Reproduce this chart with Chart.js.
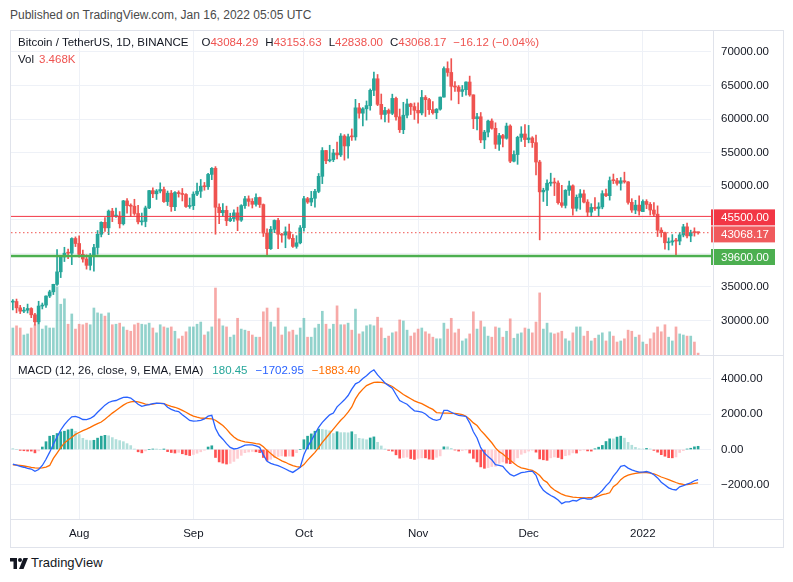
<!DOCTYPE html>
<html><head><meta charset="utf-8">
<script src="https://cdn.jsdelivr.net/npm/chart.js@4.4.1/dist/chart.umd.min.js"></script>
<style>
html,body{margin:0;padding:0;background:#fff;}
body{width:793px;height:582px;overflow:hidden;position:relative;font-family:'Liberation Sans',Arial,sans-serif;color:#131722;}
.abs{position:absolute;white-space:nowrap;}
#pub{left:10px;top:8px;font-size:12px;line-height:14px;color:#4a4a4a;}
#frame{left:10px;top:30px;width:772px;height:516px;border:1px solid #e0e3eb;}
#pw{left:11px;top:31px;width:771px;height:324px;}
#mw{left:11px;top:356px;width:771px;height:190px;}
.hl{background:#e0e3eb;height:1px;}
.vl{background:#e0e3eb;width:1px;}
.leg{font-size:11.5px;line-height:14px;}
.r{color:#ef5350;}
.sp{margin-left:7px;}
#logo{left:10px;top:556px;font-size:13px;line-height:14px;color:#131722;display:flex;align-items:center;gap:3px;}
</style></head><body>
<div id="pub" class="abs">Published on TradingView.com, Jan 16, 2022 05:05 UTC</div>
<div id="frame" class="abs"></div>
<div id="pw" class="abs"><canvas id="priceChart"></canvas></div>
<div id="mw" class="abs"><canvas id="macdChart"></canvas></div>
<div class="abs hl" style="left:10px;top:355px;width:773px;"></div>
<div class="abs hl" style="left:10px;top:519px;width:773px;"></div>
<div class="abs vl" style="left:713px;top:30px;height:517px;"></div>
<div class="abs leg" style="left:18px;top:35px;">Bitcoin / TetherUS, 1D, BINANCE<span style="margin-left:13px">O</span><span class="r">43084.29</span><span class="sp">H</span><span class="r">43153.63</span><span class="sp">L</span><span class="r">42838.00</span><span class="sp">C</span><span class="r">43068.17</span><span class="r sp">−16.12 (−0.04%)</span></div>
<div class="abs leg" style="left:18px;top:52px;">Vol<span class="r" style="margin-left:5px">3.468K</span></div>
<div class="abs leg" style="left:18px;top:363px;">MACD (12, 26, close, 9, EMA, EMA)<span style="color:#26a69a;margin-left:9px">180.45</span><span style="color:#2962ff;margin-left:8px">−1702.95</span><span style="color:#ff6d00;margin-left:8px">−1883.40</span></div>
<div id="logo" class="abs"><svg width="18" height="11" viewBox="0 0 36 22"><path d="M0 0h14v22h-7v-15h-7z" fill="#131722"/><circle cx="20" cy="4" r="4" fill="#131722"/><path d="M27 0h9l-9 22h-9z" fill="#131722"/></svg><span>TradingView</span></div>
<script>
// ---------- data ----------
const firstDate = [2021, 6, 14];   // Jul 14 2021 (month 0-based)
const slotCount = 190;             // daily slots on the time axis (3 empty at right)
const tickDates = ['2021-08-01','2021-09-01','2021-10-01','2021-11-01','2021-12-01','2022-01-01'];
const tickLabels = ['Aug','Sep','Oct','Nov','Dec','2022'];
const priceTicks = [30000,35000,40000,45000,50000,55000,60000,65000,70000];
const hiddenPriceLabels = [40000,45000];   // covered by the level labels
const macdTicks = [-2000,0,2000,4000];

const open = [32729,32820,31874,31383,31520,31779,30839,29790,32144,32287,33635,34262,35376,37242,39456,40019,40018,42206,
41462,39850,39146,38208,39744,40866,42832,44614,43794,46280,45543,45544,44400,47810,47097,47019,45937,44686,44741,46763,49340,48867,49284,49507,47707,48961,46942,49059,48897,48768,46970,
47100,48811,49247,50000,49918,51757,52667,46868,46048,46396,44851,45172,46026,44942,47103,48121,47737,47300,48307,47260,43012,40694,43574,44896,42839,42717,43208,42236,41034,41564,
43820,48141,47634,48201,49224,51472,55315,53785,53955,54949,54659,57471,55996,57370,57347,61673,60876,61528,62005,64281,66002,62193,60689,61286,60853,63079,60328,58413,60576,62253,61859,
61300,60911,63220,62897,61395,60940,61470,63274,67525,66947,64883,64774,64123,64380,65520,63606,60059,60345,56892,58057,59707,58617,56247,57541,57138,58960,53723,54716,57274,57777,
56951,57184,56485,53601,49153,49397,50441,50589,50471,47535,47140,49389,50053,46702,48336,48864,47632,46133,46834,46682,46914,48887,48588,50838,50821,50428,50809,50640,47589,46444,47179,
46216,47723,47286,46446,45832,43452,43082,41567,41680,41864,41822,42735,43946,42592,43099,43084.29];
const high = [33114,33185,32249,31950,32435,31899,31063,32858,32591,33650,34500,35398,40550,39542,40900,40640,42316,42448,
42599,40480,39780,39969,41350,43392,44700,45310,46454,46700,46743,46218,47886,48144,47372,48053,47160,46000,47033,49400,49757,49500,50500,49876,49283,49365,49193,49309,49659,48910,48246,
49156,50450,51000,50558,51900,52780,52920,47381,47399,47031,45970,46460,46880,47250,48500,48557,48150,48843,48372,47358,43639,44000,44978,45200,42971,43936,44350,42788,42629,44141,
48495,48336,49228,49536,51886,55750,55332,56100,55489,56561,57839,57680,57777,58532,62933,62350,61700,62695,64486,67000,66639,63732,61747,61500,63710,63293,61496,62499,62980,62359,62405,
62437,64270,63500,63086,62595,61560,63286,67789,68530,69000,65600,65000,65000,65550,66401,63617,60840,60976,58320,59845,60029,59444,57875,57735,59398,59150,55280,57445,58865,59176,
59053,57375,57600,53859,49699,50935,51936,51200,50797,50125,49485,50777,50189,48700,49500,49436,47995,47392,48300,47537,49328,49576,51375,51810,51156,51280,52088,50704,48139,47900,48549,
47954,47990,47570,47557,47070,43816,43145,42300,42786,42248,43100,44322,44500,43448,43800,43153.63];
const low = [31550,31133,31020,31164,31108,30407,29278,29482,31708,31925,33401,33851,35205,36383,38772,39200,38313,41000,
39422,38690,37642,37508,37332,39853,42446,43261,42779,44718,45341,43770,44217,45971,45500,45660,44376,44203,43955,46644,48300,48026,49000,47600,47122,46250,46363,48370,47800,46853,46700,
46513,48584,48316,49400,49500,50969,42843,44412,45514,44132,44722,44742,43370,44750,46700,47021,46750,47035,46829,42500,39600,40567,43069,40675,41646,40829,42098,40888,40753,41410,
43283,47430,47088,46891,49022,50382,53357,53617,53661,54080,54415,53879,54167,56818,56850,60150,58963,59844,61322,63481,62000,60000,59562,59510,60650,59817,58000,57820,60174,60673,59945,
59405,60625,60382,60677,60721,60050,61322,63273,66382,62822,64100,62278,63360,63576,63400,58574,58373,56474,55600,57353,58486,55610,55317,55837,57000,53500,53610,53256,56666,55875,
56458,55777,51680,42000,47727,47100,50039,48600,47320,46852,46751,48638,45672,46290,46547,47511,45456,45500,46406,45558,46630,48421,47920,50384,50142,49412,50450,47313,46096,45900,45678,
46208,46654,45696,45500,42500,42430,40610,40501,41200,39650,41268,42450,42311,41725,42555,42838];
const close = [32820,31880,31383,31520,31778,30839,29790,32144,32287,33634,34258,35381,37237,39457,40019,40016,42206,41461,
39846,39147,38207,39723,40862,42836,44614,43792,46285,45543,45544,44400,47810,47096,47019,45936,44687,44710,46761,49340,48867,49285,49507,47707,48960,46942,49059,48897,48767,46971,47100,
48810,49246,49999,49915,51756,52663,46863,46048,46395,44851,45171,46026,44940,47111,48121,47737,47300,48314,47260,43012,40693,43575,44896,42840,42717,43209,42235,41035,41564,43791,
48141,47634,48201,49224,51471,55315,53785,53951,54949,54659,57471,55996,57367,57347,61672,60875,61528,62009,64280,66001,62193,60688,61286,60853,63078,60328,58413,60575,62253,61859,61300,
60911,63219,62897,61395,60937,61470,63273,67525,66947,64882,64774,64122,64380,65519,63606,60058,60344,56891,58052,59707,58622,56247,57541,57138,58960,53726,54721,57274,57776,56950,
57184,56480,53601,49152,49396,50441,50588,50471,47545,47140,49389,50053,46702,48343,48864,47632,46131,46834,46681,46914,48889,48588,50838,50821,50429,50809,50640,47588,46444,47179,46306,
47722,47286,46446,45832,43451,43082,41566,41679,41864,41822,42735,43949,42591,43099,43084,43068.17];
const volumeK = [50,54,50,37,39,50,56,87,48,54,50,50,126,94,104,57,76,48,57,56,59,56,87,78,76,72,78,56,57,59,52,46,44,56,59,57,56,59,50,41,56,52,50,52,44,30,35,43,52,52,57,61,37,43,52,124,67,54,52,33,37,68,
48,46,44,37,33,33,80,87,61,52,87,37,52,43,46,37,50,68,33,33,50,57,81,57,48,57,91,56,56,59,46,85,39,43,54,56,54,70,50,31,35,41,43,65,63,46,35,41,48,50,43,39,33,30,30,59,48,68,41,48,26,30,
39,80,48,63,52,35,33,52,50,33,44,67,31,39,41,50,48,41,61,115,48,59,41,39,41,44,30,26,41,52,52,35,44,26,31,37,41,26,43,35,24,26,30,46,44,33,37,24,20,30,41,52,43,56,33,26,52,39,37,35,35,24,3.468];
const macdLine = [-820,-880,-950,-1000,-1060,-1100,-1230,-1130,-900,-550,-150,300,700,1100,1400,1640,1840,1870,1800,1690,1680,1750,1880,2100,2300,2500,2650,2720,2760,2850,2940,2950,2900,2730,2550,2430,2480,2530,2580,2610,2600,2590,2380,2260,2180,2140,1960,1800,1640,1600,1610,1640,1720,1880,1930,1200,800,580,330,120,30,60,150,250,260,260,200,120,-300,-670,-780,-850,-910,-1000,-1100,-1200,-1290,-1150,-1000,-300,150,500,870,1250,1530,1750,1950,2050,2400,2600,2800,3040,3400,3700,3800,4000,4150,4350,4490,4200,3980,3750,3600,3460,3100,2760,2650,2550,2350,2180,2150,2110,2000,1820,1700,1640,1700,2200,2200,2100,2000,1920,1900,1860,1500,1000,650,100,-200,-400,-580,-860,-900,-950,-1200,-1400,-1500,-1400,-1300,-1270,-1230,-1220,-1450,-2000,-2300,-2460,-2590,-2700,-2850,-3050,-2950,-2950,-2870,-2900,-2780,-2740,-2800,-2800,-2650,-2500,-2310,-2050,-1840,-1500,-1250,-950,-900,-1050,-1150,-1220,-1270,-1270,-1240,-1300,-1420,-1600,-1840,-2000,-2160,-2250,-2280,-2100,-2030,-1950,-1880,-1760,-1702.95];
const signalLine = [-870,-880,-900,-930,-970,-1010,-1040,-1050,-1040,-990,-900,-500,-200,100,370,530,690,850,960,1060,1150,1250,1360,1460,1550,1700,1880,2050,2200,2350,2500,2620,2680,2710,2680,2620,2560,2530,2560,2600,2600,2580,2500,2430,2380,2300,2200,2100,1980,1880,1820,1770,1760,1740,1720,1650,1500,1350,1150,900,700,560,480,430,400,370,330,300,150,-50,-230,-400,-520,-640,-720,-830,-910,-970,-1000,-850,-600,-380,-160,100,400,650,900,1150,1400,1650,1850,2100,2400,2850,3170,3400,3600,3700,3780,3794,3780,3740,3650,3550,3400,3250,3100,2980,2860,2740,2650,2580,2470,2360,2260,2080,2060,2050,2050,2040,2030,2010,1960,1870,1700,1500,1350,1080,860,620,380,90,-120,-250,-430,-600,-780,-930,-1030,-1080,-1140,-1180,-1300,-1470,-1720,-1850,-2120,-2280,-2400,-2520,-2600,-2640,-2680,-2700,-2710,-2723,-2720,-2710,-2690,-2630,-2540,-2500,-2440,-2100,-1950,-1700,-1540,-1450,-1390,-1340,-1310,-1296,-1300,-1330,-1371,-1450,-1550,-1620,-1700,-1780,-1860,-1930,-1970,-1975,-1950,-1910,-1883.40];
const histogram = [50,0,-50,-70,-90,-90,-190,-80,140,440,750,800,900,1000,1030,1110,1150,1020,840,630,530,500,520,640,750,800,770,670,560,500,440,330,220,20,-130,-190,-80,0,20,10,0,10,-120,-170,-200,-160,-240,-300,-340,-280,-210,-130,-40,140,210,-450,-700,-770,-820,-780,-670,-500,-330,-180,-140,-110,-130,-180,-450,-620,-550,-450,-390,-360,-380,-370,-380,-180,0,550,750,880,1030,1150,1130,1100,1050,900,1000,950,950,940,1000,850,630,600,550,650,710,406,200,10,-50,-90,-300,-490,-450,-430,-510,-560,-500,-470,-470,-540,-560,-440,-360,150,150,60,-30,-90,-60,-10,-200,-500,-700,-980,-1060,-1020,-960,-950,-780,-700,-770,-800,-720,-470,-270,-190,-90,-40,-150,-530,-580,-610,-470,-420,-450,-530,-350,-310,-190,-200,-70,-17,-80,-90,40,130,230,450,600,600,700,750,640,400,240,120,40,26,60,30,-50,-150,-290,-380,-460,-470,-420,-170,-60,25,70,150,180.45];
const resistanceLevel = 45500;
const supportLevel = 39600;
const lastPrice = 43068.17;

// ---------- derived (categories & styling) ----------
const categories = [];
for (let i = 0; i < slotCount; i++) {
  const d = new Date(Date.UTC(firstDate[0], firstDate[1], firstDate[2] + i));
  categories.push(d.toISOString().slice(0, 10));
}
const UP = '#26a69a', DOWN = '#ef5350';
const wicks = open.map((o, i) => [low[i], high[i]]);
const bodies = open.map((o, i) => [Math.min(o, close[i]), Math.max(o, close[i])]);
const candleColors = open.map((o, i) => close[i] >= o ? UP : DOWN);
const volColors = open.map((o, i) => close[i] >= o ? 'rgba(38,166,154,0.5)' : 'rgba(239,83,80,0.5)');
const histColors = histogram.map((h, i) => {
  const p = i > 0 ? histogram[i - 1] : h;
  if (h >= 0) return h > p ? '#26a69a' : '#b2dfdb';
  return h > p ? '#ffcdd2' : '#ff5252';
});
const tickIndex = {};
tickDates.forEach((d, k) => { tickIndex[d] = tickLabels[k]; });
const isTick = i => tickIndex[categories[i]] !== undefined;
const GRID = '#eef1f7';
const FONT = {family: "'Liberation Sans', Arial, sans-serif", size: 11.5};
Chart.defaults.font.family = FONT.family;
Chart.defaults.font.size = FONT.size;
Chart.defaults.color = '#131722';

const fmt = v => (v < 0 ? '−' : '') + Math.abs(v).toFixed(2);
const noPad = s => { s.paddingTop = 0; s.paddingBottom = 0; s.paddingLeft = 0; s.paddingRight = 0; };

const xBase = () => ({
  type: 'category', offset: true,
  grid: {offset: false, drawTicks: false, color: c => isTick(c.index) ? GRID : 'rgba(0,0,0,0)'},
  border: {display: false},
});

// overlay lines + price labels
const levelsPlugin = {
  id: 'levels',
  afterDatasetsDraw(chart) {
    const {ctx, chartArea: a, scales: {y}} = chart;
    ctx.save();
    const line = (v, color, w, dash) => {
      const py = y.getPixelForValue(v);
      ctx.beginPath(); ctx.setLineDash(dash || []); ctx.lineWidth = w; ctx.strokeStyle = color;
      ctx.moveTo(a.left, py); ctx.lineTo(a.right, py); ctx.stroke();
    };
    line(resistanceLevel, '#f23645', 1);
    line(lastPrice, '#ef5350', 1, [1.5, 2.5]);
    line(supportLevel, '#4caf50', 2.5);
    ctx.restore();
  },
  afterDraw(chart) {
    const {ctx, chartArea: a, scales: {y}} = chart;
    ctx.save();
    const h = 16;
    let prevBottom = -1e9;
    const box = (v, bg) => {
      let cy = y.getPixelForValue(v) + 1;
      if (cy - h / 2 < prevBottom + 1) cy = prevBottom + 1 + h / 2;
      prevBottom = cy + h / 2;
      ctx.fillStyle = bg;
      ctx.fillRect(a.right, cy - h / 2, 64, h);
      ctx.fillStyle = '#ffffff';
      ctx.font = "11.5px 'Liberation Sans', Arial, sans-serif";
      ctx.textBaseline = 'middle'; ctx.textAlign = 'left';
      ctx.fillText(v.toFixed(2), a.right + 10, cy + 0.5);
    };
    box(resistanceLevel, '#f23645');
    box(lastPrice, '#f05a5d');
    box(supportLevel, '#4caf50');
    ctx.restore();
  }
};

new Chart(document.getElementById('priceChart'), {
  type: 'bar',
  data: {
    labels: categories,
    datasets: [
      {label: 'body', data: bodies, backgroundColor: candleColors, barThickness: 3, minBarLength: 1, grouped: false, order: 1, yAxisID: 'y'},
      {label: 'wick', data: wicks, backgroundColor: candleColors, barThickness: 1, grouped: false, order: 2, yAxisID: 'y'},
      {label: 'volume', data: volumeK, backgroundColor: volColors, barThickness: 2, grouped: false, order: 3, yAxisID: 'yVol'}
    ]
  },
  options: {
    responsive: true, maintainAspectRatio: false, animation: false,
    layout: {padding: 0},
    plugins: {legend: {display: false}, tooltip: {enabled: false}},
    scales: {
      x: Object.assign(xBase(), {ticks: {display: false, autoSkip: false}, afterFit: s => { s.height = 0; noPad(s); }}),
      y: {
        position: 'right', min: 24850, max: 73120,
        afterBuildTicks: s => { s.ticks = priceTicks.map(v => ({value: v})); },
        ticks: {padding: 10, color: '#131722', callback: v => hiddenPriceLabels.includes(v) ? '' : v.toFixed(2)},
        grid: {color: GRID, drawTicks: false},
        border: {display: false},
        afterFit: s => { s.width = 71; noPad(s); }
      },
      yVol: {display: false, min: 0, max: 600}
    }
  },
  plugins: [levelsPlugin]
});

new Chart(document.getElementById('macdChart'), {
  type: 'bar',
  data: {
    labels: categories,
    datasets: [
      {type: 'line', label: 'MACD', data: macdLine, borderColor: '#2962ff', borderWidth: 1.3, pointRadius: 0, tension: 0, order: 0},
      {type: 'line', label: 'Signal', data: signalLine, borderColor: '#ff6d00', borderWidth: 1.3, pointRadius: 0, tension: 0, order: 0},
      {label: 'Histogram', data: histogram, backgroundColor: histColors, barThickness: 2, grouped: false, order: 1}
    ]
  },
  options: {
    responsive: true, maintainAspectRatio: false, animation: false,
    layout: {padding: 0},
    plugins: {legend: {display: false}, tooltip: {enabled: false}},
    scales: {
      x: Object.assign(xBase(), {
        ticks: {autoSkip: false, maxRotation: 0, minRotation: 0, padding: 8, color: '#131722',
          callback: (v, i) => isTick(i) ? tickIndex[categories[i]] : ''},
        afterFit: s => { s.height = 27; noPad(s); }
      }),
      y: {
        position: 'right', min: -3916, max: 5268,
        afterBuildTicks: s => { s.ticks = macdTicks.map(v => ({value: v})); },
        ticks: {padding: 10, color: '#131722', callback: v => fmt(v)},
        grid: {color: GRID, drawTicks: false},
        border: {display: false},
        afterFit: s => { s.width = 71; noPad(s); }
      }
    }
  }
});
</script>
</body></html>
